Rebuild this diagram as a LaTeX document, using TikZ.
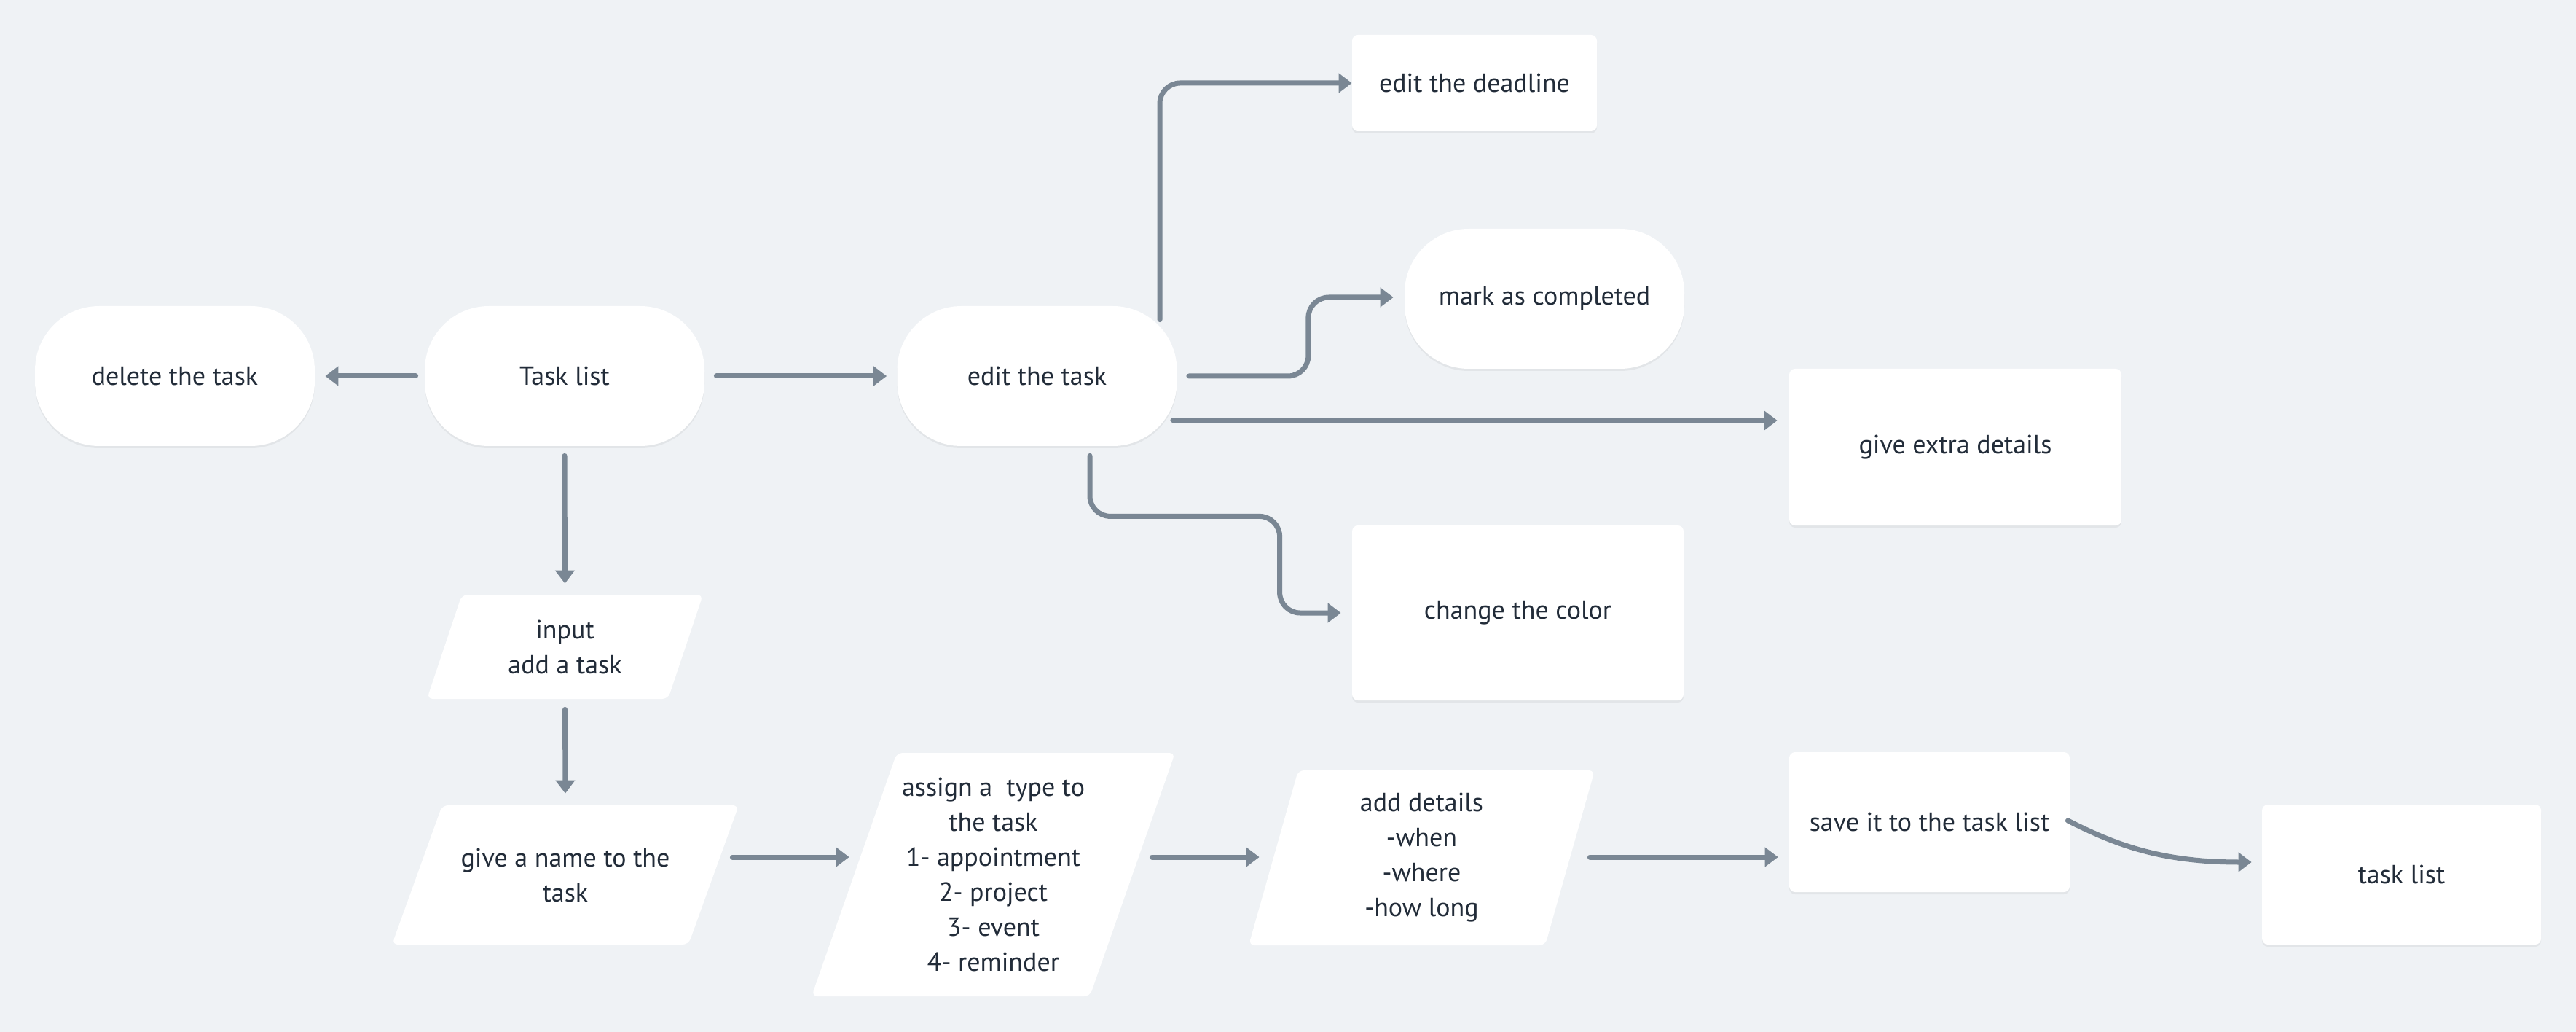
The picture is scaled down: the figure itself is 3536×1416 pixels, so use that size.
\documentclass[tikz,border=0pt]{standalone}
\usepackage{fontspec}
\setmainfont{PT Sans}
\usetikzlibrary{arrows.meta,calc,shadows}
\definecolor{bgc}{HTML}{EFF2F5}
\definecolor{linec}{HTML}{7A8794}
\definecolor{txtc}{HTML}{222C39}
\begin{document}
\begin{tikzpicture}[x=0.5pt,y=-0.5pt,
  every node/.style={font=\fontsize{18}{24}\selectfont, text=txtc, align=center, inner sep=0pt},
  base/.style={fill=white, drop shadow={shadow xshift=0pt,shadow yshift=-1.5pt,fill=black,opacity=0.05}},
  stadium/.style={base, rectangle, rounded corners=44pt, minimum width=192pt, minimum height=96pt},
  box/.style={base, rectangle, rounded corners=4pt},
  para/.style={fill=bgc, path picture={\fill[white,rounded corners=4pt]
     (path picture bounding box.south west) -- ([xshift=#1]path picture bounding box.north west)
     -- (path picture bounding box.north east) -- ([xshift=-#1]path picture bounding box.south east) -- cycle;}},
  conn/.style={draw=linec, line width=3.5pt, line cap=round, line join=round, rounded corners=14pt,
     -{Triangle[length=9pt,width=13pt]}}
]
\fill[bgc] (0,0) rectangle (3536,1416);
\useasboundingbox (0,0) rectangle (3536,1416);

\node[stadium] (delete) at (240,516) {delete the task};
\node[stadium] (tasklist) at (775,516) {Task list};
\node[stadium] (edit) at (1423.5,516) {edit the task};
\node[stadium] (mark) at (2120,410) {mark as completed};
\node[box, minimum width=168pt, minimum height=66pt] (deadline) at (2024,114) {edit the deadline};
\node[box, minimum width=228pt, minimum height=107.5pt] (extra) at (2684,613.5) {give extra details};
\node[box, minimum width=227.5pt, minimum height=120pt] (color) at (2083.5,841) {change the color};
\node[para=24pt, minimum width=189.5pt, minimum height=71.5pt] (input) at (775.5,887.5) {input\\add a task};
\node[para=34.5pt, minimum width=238pt, minimum height=95.5pt] (give) at (776,1200.5) {give a name to the\\task};
\node[para=58.5pt, minimum width=249.5pt, minimum height=167pt] (assign) at (1363.5,1200) {assign a~ type to\\the task\\1- appointment\\2- project\\3- event\\4- reminder};
\node[para=34pt, minimum width=237.5pt, minimum height=120pt] (add) at (1951.5,1177) {add details\\-when\\-where\\-how long};
\node[box, minimum width=192.5pt, minimum height=96pt] (save) at (2648.5,1128) {save it to the task list};
\node[box, minimum width=191.5pt, minimum height=96pt] (tasklist2) at (3296.5,1200) {task list};

\draw[conn, shorten <=6pt, shorten >=7pt] (tasklist.west) -- (delete.east);
\draw[conn, shorten <=8pt, shorten >=7pt] (tasklist.east) -- (edit.west);
\draw[conn, shorten <=6.5pt, shorten >=7.5pt] (tasklist.south) -- (input.north);
\draw[conn, shorten <=7pt, shorten >=8pt] (input.south) -- (give.north);
\draw[conn] ($(give.east)+(-9,-24.5)$) -- ($(assign.west)+(52,-24)$);
\draw[conn] ($(assign.east)+(-32,-24)$) -- ($(add.west)+(15,-1)$);
\draw[conn] ($(add.east)+(-7,-1)$) -- ($(save.west)+(-15,48)$);
\draw[conn] ($(save.east)+(-3,-2)$) .. controls +(60,30) and +(-130,0) .. ($(tasklist2.west)+(-14,-17)$);
\draw[conn] ($(edit.north)+(168.5,19)$) |- (deadline.west);
\draw[conn] ($(edit.east)+(16,0)$) -- ++(164,0) |- ($(mark.west)+(-15,-2)$);
\coordinate (e5) at ($(edit.east)+(-6,61)$);
\draw[conn] (e5) -- ($(e5 -| extra.west)+(-16,0)$);
\draw[conn] ($(edit.south)+(72.5,13)$) -- ++(0,83) -| ($(color.west)+(-99,0)$) -- ($(color.west)+(-15,0)$);
\end{tikzpicture}
\end{document}
